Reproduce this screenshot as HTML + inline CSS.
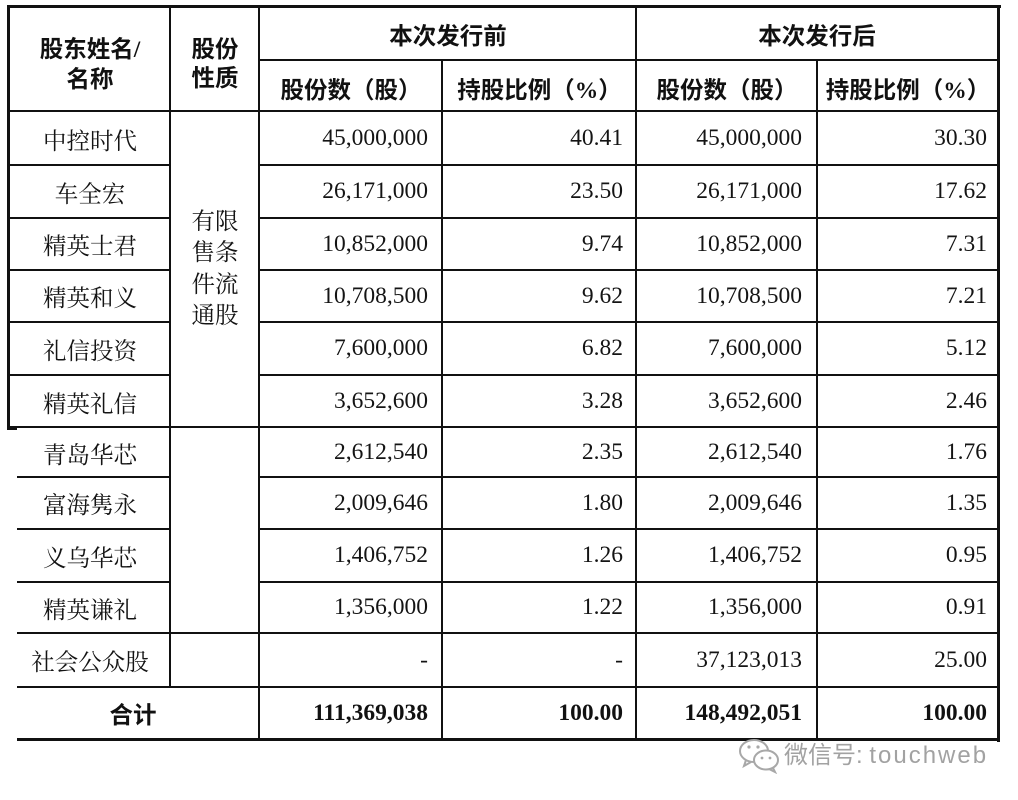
<!DOCTYPE html>
<html>
<head>
<meta charset="utf-8">
<style>
  html,body{margin:0;padding:0;}
  body{width:1018px;height:800px;background:#fff;position:relative;overflow:hidden;}
  .h{position:absolute;height:2px;background:#111;}
  .v{position:absolute;width:2px;background:#111;}
  .b{position:absolute;background:#111;}
  .t{position:absolute;display:flex;align-items:center;color:#141414;
     font-family:"Liberation Serif","Noto Serif CJK SC",serif;font-size:23.5px;white-space:nowrap;}
  .c{justify-content:center;}
  .r{justify-content:flex-end;}
  .hd{font-family:"Liberation Serif","Noto Sans CJK SC",sans-serif;font-weight:bold;color:#111;}
  .bold{font-weight:bold;color:#111;}
  .cn{font-family:"Liberation Serif","Noto Serif CJK SC",serif;}
</style>
</head>
<body>

<!-- outer borders -->
<div class="b" style="left:7px;top:5px;width:994px;height:3px;"></div>
<div class="b" style="left:7px;top:5px;width:3px;height:425px;"></div>
<div class="b" style="left:7px;top:427px;width:10px;height:3px;"></div>
<div class="b" style="left:997px;top:5px;width:3px;height:737px;"></div>
<div class="b" style="left:17px;top:738px;width:983px;height:3px;"></div>

<!-- vertical column lines -->
<div class="v" style="left:169px;top:5px;height:682px;"></div>
<div class="v" style="left:258px;top:5px;height:735px;"></div>
<div class="v" style="left:441px;top:59px;height:681px;"></div>
<div class="v" style="left:635px;top:5px;height:735px;"></div>
<div class="v" style="left:816px;top:59px;height:681px;"></div>

<!-- horizontal lines -->
<div class="h" style="left:258px;top:59px;width:740px;"></div>
<div class="h" style="left:7px;top:110px;width:992px;"></div>

<div class="h" style="left:7px;top:164px;width:163px;"></div>
<div class="h" style="left:258px;top:164px;width:741px;"></div>
<div class="h" style="left:7px;top:217px;width:163px;"></div>
<div class="h" style="left:258px;top:217px;width:741px;"></div>
<div class="h" style="left:7px;top:269px;width:163px;"></div>
<div class="h" style="left:258px;top:269px;width:741px;"></div>
<div class="h" style="left:7px;top:321px;width:163px;"></div>
<div class="h" style="left:258px;top:321px;width:741px;"></div>
<div class="h" style="left:7px;top:374px;width:163px;"></div>
<div class="h" style="left:258px;top:374px;width:741px;"></div>

<div class="h" style="left:10px;top:426px;width:989px;"></div>

<div class="h" style="left:17px;top:476px;width:153px;"></div>
<div class="h" style="left:258px;top:476px;width:741px;"></div>
<div class="h" style="left:17px;top:528px;width:153px;"></div>
<div class="h" style="left:258px;top:528px;width:741px;"></div>
<div class="h" style="left:17px;top:581px;width:153px;"></div>
<div class="h" style="left:258px;top:581px;width:741px;"></div>

<div class="h" style="left:17px;top:632px;width:982px;"></div>
<div class="h" style="left:17px;top:686px;width:982px;"></div>

<!-- header -->
<div class="t c hd" style="left:10px;width:160px;top:30px;height:34px;">股东姓名/</div>
<div class="t c hd" style="left:10px;width:160px;top:60px;height:34px;">名称</div>
<div class="t c hd" style="left:171px;width:88px;top:30px;height:34px;">股份</div>
<div class="t c hd" style="left:171px;width:88px;top:59px;height:34px;">性质</div>
<div class="t c hd" style="left:260px;width:376px;top:8px;height:52px;">本次发行前</div>
<div class="t c hd" style="left:637px;width:360px;top:8px;height:52px;">本次发行后</div>
<div class="t c hd" style="left:260px;width:182px;top:63px;height:50px;">股份数（股）</div>
<div class="t c hd" style="left:443px;width:193px;top:63px;height:50px;">持股比例（%）</div>
<div class="t c hd" style="left:637px;width:180px;top:63px;height:50px;">股份数（股）</div>
<div class="t c hd" style="left:818px;width:180px;top:63px;height:50px;">持股比例（%）</div>

<!-- merged property cell -->
<div class="t cn" style="left:171px;width:88px;top:112px;height:315px;justify-content:center;">
  <div style="width:48px;line-height:31.5px;text-align:center;white-space:normal;">有限<br>售条<br>件流<br>通股</div>
</div>

<!-- data rows -->
<div class="t c cn" style="left:10px;width:160px;top:112px;height:53px;">中控时代</div>
<div class="t r" style="left:260px;width:168px;top:112px;height:53px;">45,000,000</div>
<div class="t r" style="left:443px;width:180px;top:112px;height:53px;">40.41</div>
<div class="t r" style="left:637px;width:165px;top:112px;height:53px;">45,000,000</div>
<div class="t r" style="left:818px;width:169px;top:112px;height:53px;">30.30</div>

<div class="t c cn" style="left:10px;width:160px;top:165px;height:53px;">车全宏</div>
<div class="t r" style="left:260px;width:168px;top:165px;height:53px;">26,171,000</div>
<div class="t r" style="left:443px;width:180px;top:165px;height:53px;">23.50</div>
<div class="t r" style="left:637px;width:165px;top:165px;height:53px;">26,171,000</div>
<div class="t r" style="left:818px;width:169px;top:165px;height:53px;">17.62</div>

<div class="t c cn" style="left:10px;width:160px;top:218px;height:52px;">精英士君</div>
<div class="t r" style="left:260px;width:168px;top:218px;height:52px;">10,852,000</div>
<div class="t r" style="left:443px;width:180px;top:218px;height:52px;">9.74</div>
<div class="t r" style="left:637px;width:165px;top:218px;height:52px;">10,852,000</div>
<div class="t r" style="left:818px;width:169px;top:218px;height:52px;">7.31</div>

<div class="t c cn" style="left:10px;width:160px;top:270px;height:52px;">精英和义</div>
<div class="t r" style="left:260px;width:168px;top:270px;height:52px;">10,708,500</div>
<div class="t r" style="left:443px;width:180px;top:270px;height:52px;">9.62</div>
<div class="t r" style="left:637px;width:165px;top:270px;height:52px;">10,708,500</div>
<div class="t r" style="left:818px;width:169px;top:270px;height:52px;">7.21</div>

<div class="t c cn" style="left:10px;width:160px;top:322px;height:53px;">礼信投资</div>
<div class="t r" style="left:260px;width:168px;top:322px;height:53px;">7,600,000</div>
<div class="t r" style="left:443px;width:180px;top:322px;height:53px;">6.82</div>
<div class="t r" style="left:637px;width:165px;top:322px;height:53px;">7,600,000</div>
<div class="t r" style="left:818px;width:169px;top:322px;height:53px;">5.12</div>

<div class="t c cn" style="left:10px;width:160px;top:375px;height:53px;">精英礼信</div>
<div class="t r" style="left:260px;width:168px;top:375px;height:53px;">3,652,600</div>
<div class="t r" style="left:443px;width:180px;top:375px;height:53px;">3.28</div>
<div class="t r" style="left:637px;width:165px;top:375px;height:53px;">3,652,600</div>
<div class="t r" style="left:818px;width:169px;top:375px;height:53px;">2.46</div>

<div class="t c cn" style="left:10px;width:160px;top:428px;height:49px;">青岛华芯</div>
<div class="t r" style="left:260px;width:168px;top:428px;height:49px;">2,612,540</div>
<div class="t r" style="left:443px;width:180px;top:428px;height:49px;">2.35</div>
<div class="t r" style="left:637px;width:165px;top:428px;height:49px;">2,612,540</div>
<div class="t r" style="left:818px;width:169px;top:428px;height:49px;">1.76</div>

<div class="t c cn" style="left:10px;width:160px;top:477px;height:52px;">富海隽永</div>
<div class="t r" style="left:260px;width:168px;top:477px;height:52px;">2,009,646</div>
<div class="t r" style="left:443px;width:180px;top:477px;height:52px;">1.80</div>
<div class="t r" style="left:637px;width:165px;top:477px;height:52px;">2,009,646</div>
<div class="t r" style="left:818px;width:169px;top:477px;height:52px;">1.35</div>

<div class="t c cn" style="left:10px;width:160px;top:529px;height:53px;">义乌华芯</div>
<div class="t r" style="left:260px;width:168px;top:529px;height:53px;">1,406,752</div>
<div class="t r" style="left:443px;width:180px;top:529px;height:53px;">1.26</div>
<div class="t r" style="left:637px;width:165px;top:529px;height:53px;">1,406,752</div>
<div class="t r" style="left:818px;width:169px;top:529px;height:53px;">0.95</div>

<div class="t c cn" style="left:10px;width:160px;top:582px;height:51px;">精英谦礼</div>
<div class="t r" style="left:260px;width:168px;top:582px;height:51px;">1,356,000</div>
<div class="t r" style="left:443px;width:180px;top:582px;height:51px;">1.22</div>
<div class="t r" style="left:637px;width:165px;top:582px;height:51px;">1,356,000</div>
<div class="t r" style="left:818px;width:169px;top:582px;height:51px;">0.91</div>

<div class="t c cn" style="left:10px;width:160px;top:633px;height:54px;">社会公众股</div>
<div class="t r" style="left:260px;width:168px;top:633px;height:54px;">-</div>
<div class="t r" style="left:443px;width:180px;top:633px;height:54px;">-</div>
<div class="t r" style="left:637px;width:165px;top:633px;height:54px;">37,123,013</div>
<div class="t r" style="left:818px;width:169px;top:633px;height:54px;">25.00</div>

<div class="t c hd" style="left:12px;width:242px;top:687px;height:52px;">合计</div>
<div class="t r bold" style="left:260px;width:168px;top:687px;height:52px;">111,369,038</div>
<div class="t r bold" style="left:443px;width:180px;top:687px;height:52px;">100.00</div>
<div class="t r bold" style="left:637px;width:165px;top:687px;height:52px;">148,492,051</div>
<div class="t r bold" style="left:818px;width:169px;top:687px;height:52px;">100.00</div>

<!-- watermark -->
<svg style="position:absolute;left:738px;top:738px;" width="44" height="36" viewBox="0 0 44 36">
  <g fill="none" stroke="#a8a8a8" stroke-width="2">
    <ellipse cx="16" cy="13" rx="14" ry="11"/>
    <path d="M8 22 L6 28 L13 24"/>
    <ellipse cx="28" cy="22" rx="12" ry="9.5" fill="#fff"/>
    <path d="M35 30 L37 34 L31 31"/>
  </g>
  <circle cx="11" cy="9" r="1.6" fill="#a8a8a8"/>
  <circle cx="20" cy="9" r="1.6" fill="#a8a8a8"/>
  <circle cx="24" cy="20" r="1.4" fill="#a8a8a8"/>
  <circle cx="32" cy="20" r="1.4" fill="#a8a8a8"/>
</svg>
<div style="position:absolute;left:784px;top:740px;height:32px;line-height:32px;font-size:24px;color:#a2a2a2;font-family:'Liberation Sans','Noto Sans CJK SC',sans-serif;white-space:nowrap;text-shadow:0 0 1px #fff;">微信号: <span style="letter-spacing:2px;">touchweb</span></div>

</body>
</html>
